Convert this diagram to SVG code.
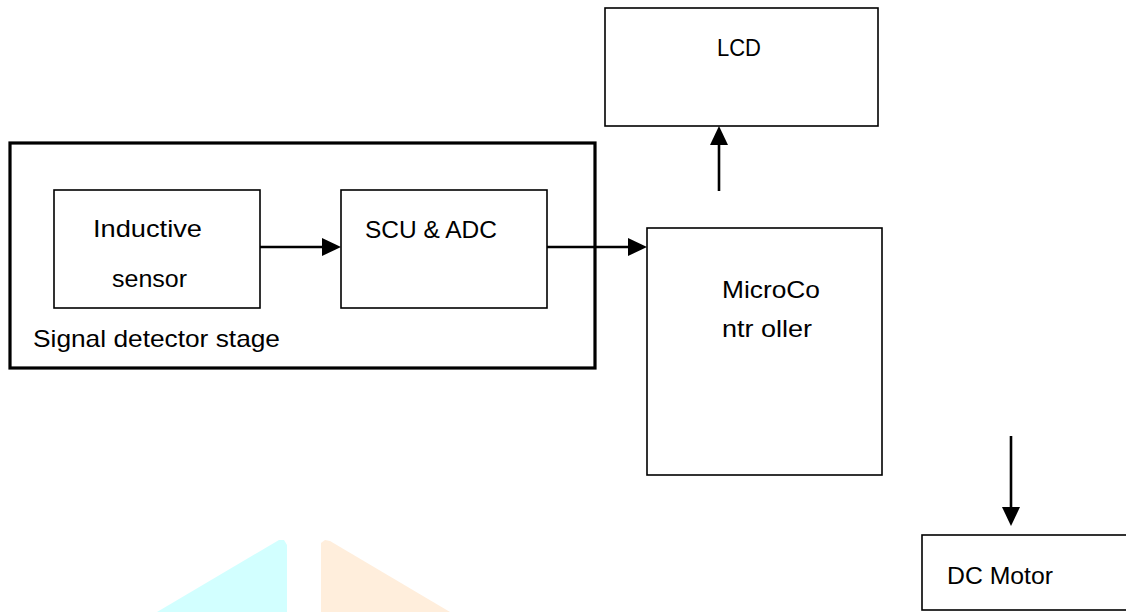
<svg xmlns="http://www.w3.org/2000/svg" width="1126" height="612" viewBox="0 0 1126 612">
<style>
.box{fill:#fff;stroke:#000;stroke-width:1.6}
.outer{fill:none;stroke:#000;stroke-width:3.2}
.t{font-family:"Liberation Sans",Arial,sans-serif;font-size:24px;fill:#000}
.c{stroke:#000;stroke-width:2.6;fill:none}
</style>
<defs>
<marker id="ah" viewBox="0 0 19 18" refX="15" refY="9" markerWidth="19" markerHeight="18" markerUnits="userSpaceOnUse" orient="auto">
<path d="M0,0 L19,9 L0,18 Z" fill="#000"/>
</marker>
</defs>
<rect width="1126" height="612" fill="#fff"/>
<g id="watermark">
<polygon points="157,612 279,540 284,540 287,545 287,612" fill="#d2ffff"/>
<polygon points="321,612 321,543 325,540 330,541 450,612" fill="#ffeedc"/>
</g>
<g id="signal-detector-stage">
<rect class="outer" x="10" y="143" width="585" height="225"/>
<text class="t" x="33" y="347" textLength="247" lengthAdjust="spacingAndGlyphs">Signal detector stage</text>
</g>
<g id="inductive-sensor">
<rect class="box" x="54" y="190" width="206" height="118"/>
<text class="t" x="93" y="237" textLength="109" lengthAdjust="spacingAndGlyphs">Inductive</text>
<text class="t" x="112" y="287" textLength="75" lengthAdjust="spacingAndGlyphs">sensor</text>
</g>
<g id="scu-adc">
<rect class="box" x="341" y="190" width="206" height="118"/>
<text class="t" x="365" y="238" textLength="132" lengthAdjust="spacingAndGlyphs">SCU &amp; ADC</text>
</g>
<g id="microcontroller">
<rect class="box" x="647" y="228" width="235" height="247"/>
<text class="t" x="722" y="298" textLength="98" lengthAdjust="spacingAndGlyphs">MicroCo</text>
<text class="t" x="722" y="337" textLength="90" lengthAdjust="spacingAndGlyphs">ntr oller</text>
</g>
<g id="lcd">
<rect class="box" x="605" y="8" width="273" height="118"/>
<text class="t" x="717" y="56" textLength="44" lengthAdjust="spacingAndGlyphs">LCD</text>
</g>
<g id="dc-motor">
<rect class="box" x="922" y="535" width="210" height="75"/>
<text class="t" x="947" y="584" textLength="106" lengthAdjust="spacingAndGlyphs">DC Motor</text>
</g>
<g id="connectors">
<line class="c" x1="260" y1="247" x2="337" y2="247" marker-end="url(#ah)"/>
<line class="c" x1="547" y1="247" x2="643" y2="247" marker-end="url(#ah)"/>
<line class="c" x1="719" y1="191" x2="719" y2="130" marker-end="url(#ah)"/>
<line class="c" x1="1011" y1="436" x2="1011" y2="522" marker-end="url(#ah)"/>
</g>
</svg>
